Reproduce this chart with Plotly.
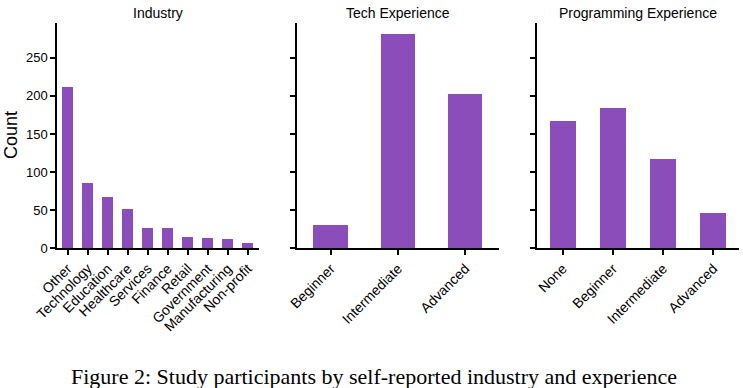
import plotly.graph_objects as go

industry_labels = ["Other", "Technology", "Education", "Healthcare", "Services",
                   "Finance", "Retail", "Government", "Manufacturing", "Non-profit"]
industry_counts = [211, 85, 67, 51, 26, 26, 14, 13, 12, 6]

tech_labels = ["Beginner", "Intermediate", "Advanced"]
tech_counts = [30, 281, 202]

prog_labels = ["None", "Beginner", "Intermediate", "Advanced"]
prog_counts = [167, 184, 117, 46]

y_ticks = [0, 50, 100, 150, 200, 250]

BAR = "#8B4DBA"
W, H = 743, 388
FONT = "Liberation Sans, Arial, sans-serif"


def px(x):
    return x / W


def py(y):
    return 1 - y / H


fig = go.Figure()

panels = [
    (industry_labels, industry_counts, 0.55, (57.3, 258.5), (-0.52, 9.54), "Industry"),
    (tech_labels, tech_counts, 0.51, (297.3, 499.0), (-0.5, 2.5), "Tech Experience"),
    (prog_labels, prog_counts, 0.52, (537.3, 739.3), (-0.51, 3.52), "Programming Experience"),
]

y_dom = (py(248.0), py(23.3))

for i, (labels, counts, bw, (x0, x1), xr, title) in enumerate(panels):
    n = "" if i == 0 else str(i + 1)
    fig.add_trace(go.Bar(
        x=list(range(len(labels))), y=counts, width=bw,
        marker=dict(color=BAR, line=dict(width=0)),
        xaxis="x" + n, yaxis="y" + n, showlegend=False,
    ))
    fig.update_layout(**{
        "xaxis" + n: dict(
            domain=[px(x0), px(x1)], range=list(xr), anchor="y" + n,
            tickmode="array", tickvals=list(range(len(labels))), ticktext=labels,
            tickangle=-45, ticks="outside", ticklen=5, tickwidth=1.5, tickcolor="black",
            showline=True, linecolor="black", linewidth=1.8, showgrid=False, zeroline=False,
            tickfont=dict(family=FONT, size=14, color="black"), automargin=False,
        ),
        "yaxis" + n: dict(
            domain=list(y_dom), range=[0, 295.5], anchor="x" + n,
            tickmode="array", tickvals=y_ticks,
            showticklabels=(i == 0),
            ticks="outside", ticklen=5, tickwidth=1.5, tickcolor="black",
            showline=True, linecolor="black", linewidth=1.8, showgrid=False, zeroline=False,
            tickfont=dict(family=FONT, size=13, color="black"), automargin=False,
        ),
    })
    fig.add_annotation(
        text=title, xref="paper", yref="paper",
        x=px((x0 + x1) / 2), y=py(13.5), xanchor="center", yanchor="middle",
        showarrow=False, font=dict(family=FONT, size=14, color="black"),
    )

fig.add_annotation(
    text="Count", xref="paper", yref="paper", x=px(10.5), y=py(135.5),
    xanchor="center", yanchor="middle", textangle=-90, showarrow=False,
    font=dict(family=FONT, size=18, color="black"),
)

fig.add_annotation(
    text="Figure 2: Study participants by self-reported industry and experience",
    xref="paper", yref="paper", x=px(374), y=py(376),
    xanchor="center", yanchor="middle", showarrow=False,
    font=dict(family="Liberation Serif, Times New Roman, serif", size=22, color="black"),
)

fig.update_layout(
    width=W, height=H, margin=dict(l=0, r=0, t=0, b=0, pad=0, autoexpand=False),
    plot_bgcolor="white", paper_bgcolor="white", bargap=0,
)

fig.write_html(
    "out.html",
    config={"displayModeBar": False},
    post_script="document.body.style.margin='0';document.body.style.overflow='hidden';",
)
